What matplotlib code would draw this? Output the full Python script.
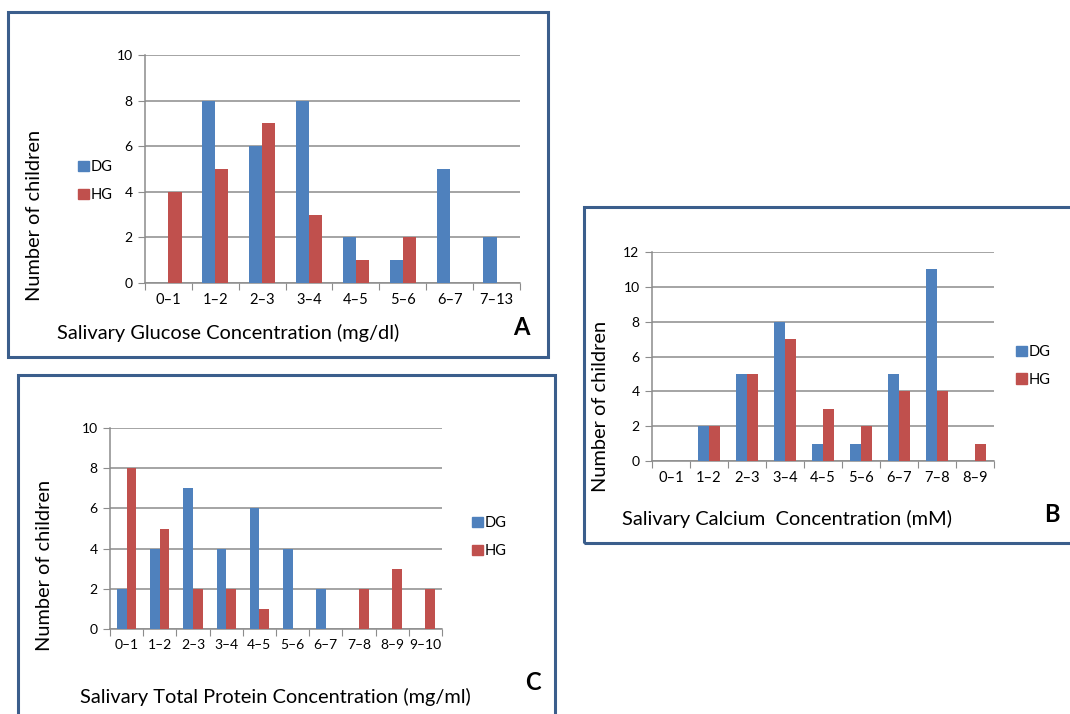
import matplotlib
matplotlib.use('Agg')
import matplotlib.pyplot as plt
from matplotlib.patches import Rectangle, Patch
import numpy as np

# Data
glucose_cats = ['0\u20131', '1\u20132', '2\u20133', '3\u20134', '4\u20135', '5\u20136', '6\u20137', '7\u201313']
glucose_dg = [0, 8, 6, 8, 2, 1, 5, 2]
glucose_hg = [4, 5, 7, 3, 1, 2, 0, 0]

calcium_cats = ['0\u20131', '1\u20132', '2\u20133', '3\u20134', '4\u20135', '5\u20136', '6\u20137', '7\u20138', '8\u20139']
calcium_dg = [0, 2, 5, 8, 1, 1, 5, 11, 0]
calcium_hg = [0, 2, 5, 7, 3, 2, 4, 4, 1]

protein_cats = ['0\u20131', '1\u20132', '2\u20133', '3\u20134', '4\u20135', '5\u20136', '6\u20137', '7\u20138', '8\u20139', '9\u201310']
protein_dg = [2, 4, 7, 4, 6, 4, 2, 0, 0, 0]
protein_hg = [8, 5, 2, 2, 1, 0, 0, 2, 3, 2]

BLUE = '#4F81BD'
RED = '#C0504D'
FRAME = '#3B5E8C'
GRID = '#8C8C8C'
FONT = ['Lato', 'DejaVu Sans']

W, H = 1070, 714
plt.rcParams['font.family'] = FONT
fig = plt.figure(figsize=(W / 100, H / 100), dpi=100)
fig.patch.set_facecolor('white')


def fx(x):
    return x / W


def fy(y):
    return 1 - y / H


def add_frame(l, t, r, b):
    fig.patches.append(Rectangle((fx(l), fy(b)), fx(r - l), (b - t) / H,
                                 transform=fig.transFigure, fill=False,
                                 edgecolor=FRAME, linewidth=2.2, zorder=0))


def bar_panel(box, cats, dg, hg, ymax, ystep, bw, tfs=10.5):
    l, t, r, b = box
    ax = fig.add_axes([fx(l), fy(b), fx(r - l), (b - t) / H])
    x = np.arange(len(cats))
    ax.bar(x - bw / 2, dg, bw, color=BLUE, zorder=3)
    ax.bar(x + bw / 2, hg, bw, color=RED, zorder=3)
    ax.set_xlim(-0.5, len(cats) - 0.5)
    ax.set_ylim(0, ymax)
    ax.set_yticks(np.arange(0, ymax + 1, ystep))
    ax.yaxis.grid(True, color=GRID, linewidth=1.1, zorder=0)
    ax.set_axisbelow(True)
    ax.set_xticks(np.arange(len(cats) + 1) - 0.5)
    ax.set_xticklabels([])
    ax.set_xticks(x, minor=True)
    ax.set_xticklabels(cats, minor=True, fontsize=tfs)
    ax.tick_params(axis='x', which='major', length=5, color=GRID, direction='out')
    ax.tick_params(axis='x', which='minor', length=0, pad=7)
    ax.tick_params(axis='y', length=5, color=GRID, labelsize=10, pad=4)
    for s in ['top', 'right']:
        ax.spines[s].set_visible(False)
    for s in ['left', 'bottom']:
        ax.spines[s].set_color(GRID)
        ax.spines[s].set_linewidth(1.1)
    return ax


def legend_at(x, y):
    handles = [Patch(color=BLUE, label='DG'), Patch(color=RED, label='HG')]
    fig.legend(handles=handles, loc='center left', bbox_to_anchor=(fx(x), fy(y)),
               frameon=False, fontsize=10.5, handlelength=0.75, handleheight=0.75,
               handletextpad=0.15, labelspacing=0.95, borderpad=0, borderaxespad=0)


# Panel A
add_frame(8, 12, 548, 357)
bar_panel((145, 55, 520, 283), glucose_cats, glucose_dg, glucose_hg, 10, 2, 0.28)
legend_at(78, 181)
fig.text(fx(35), fy(215), 'Number of children', rotation=90, ha='center', va='center', fontsize=14.4)
fig.text(fx(57), fy(333), 'Salivary Glucose Concentration (mg/dl)', ha='left', va='center', fontsize=14.4)
fig.text(fx(513), fy(328), 'A', ha='left', va='center', fontsize=17, fontweight='bold')

# Panel B
add_frame(584, 207, 1075, 543)
bar_panel((652, 252, 994, 461), calcium_cats, calcium_dg, calcium_hg, 12, 2, 0.3)
legend_at(1016, 366)
fig.text(fx(601), fy(406), 'Number of children', rotation=90, ha='center', va='center', fontsize=14.4)
fig.text(fx(622), fy(519), 'Salivary Calcium  Concentration (mM)', ha='left', va='center', fontsize=14.4)
fig.text(fx(1044), fy(515), 'B', ha='left', va='center', fontsize=17, fontweight='bold')

# Panel C
add_frame(18, 375, 555, 718)
bar_panel((110, 428, 442, 629), protein_cats, protein_dg, protein_hg, 10, 2, 0.29, tfs=10)
legend_at(472, 537)
fig.text(fx(45), fy(565), 'Number of children', rotation=90, ha='center', va='center', fontsize=14.4)
fig.text(fx(80), fy(697), 'Salivary Total Protein Concentration (mg/ml)', ha='left', va='center', fontsize=14.4)
fig.text(fx(525), fy(683), 'C', ha='left', va='center', fontsize=17, fontweight='bold')

fig.savefig('out.png', dpi=100)
